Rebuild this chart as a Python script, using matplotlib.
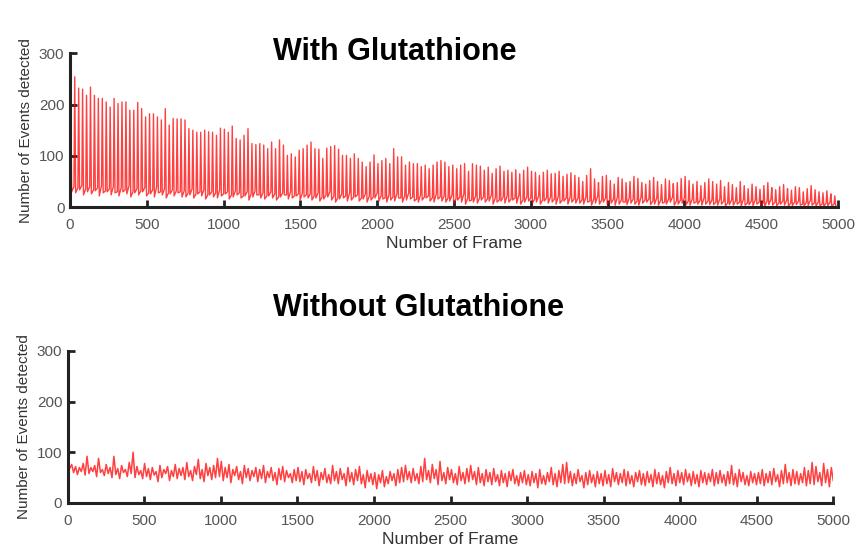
import numpy as np
import matplotlib
matplotlib.use("Agg")
import matplotlib.pyplot as plt

plt.rcParams['font.family'] = ['Liberation Sans', 'DejaVu Sans']

# ---- With Glutathione: spike heights (one per cycle) and baseline values ----
peaks = [225, 254, 232, 230, 218, 234, 218, 212, 212, 205, 195, 212, 202, 205, 205, 189, 189, 204, 192, 176,
         182, 182, 176, 170, 192, 160, 173, 172, 172,
         170, 153, 150, 146, 146, 150, 147, 146, 140, 154, 152, 146, 158, 134, 131, 140, 153, 124, 122, 124,
         121, 114, 127, 114, 131, 121, 101, 104, 98, 111, 114, 121,
         127, 114, 113, 95, 115, 118, 120, 113, 101, 101, 95, 104, 95, 88, 79, 88, 102, 85, 91, 95,
         85, 114, 98, 98, 82, 88, 85, 85, 79, 82, 75, 82, 88, 91,
         88, 79, 82, 75, 82, 85, 70, 85, 82, 80, 72, 78, 66, 75, 80, 70, 72, 68, 73, 65,
         72, 78, 70, 68, 62, 68, 72, 65, 66, 70, 60, 64, 67, 62,
         58, 50, 62, 75, 55, 48, 60, 62, 52, 45, 58, 55, 48, 50, 60, 56, 48, 45, 52, 58,
         50, 44, 55, 52, 46, 48, 56, 60, 52, 45, 50, 42, 48, 55,
         50, 45, 52, 40, 48, 44, 38, 50, 42, 36, 45, 40, 35, 42, 48, 38, 34, 40, 44, 36,
         33, 40, 38, 30, 36, 42, 34, 30, 28, 32, 26, 22]

lows_a = [45, 40, 38, 42, 36, 40, 34, 38, 42, 32, 36, 40, 30, 38, 34, 42, 30, 36, 32, 38,
          28, 34, 40, 30, 36, 28, 34, 32, 30,
          32, 28, 36, 26, 30, 34, 24, 30, 28, 34, 26, 30, 24, 32, 28, 22, 30, 26, 32, 24,
          28, 22, 30, 26, 20, 28, 24, 30, 22, 26, 28, 24,
          26, 22, 28, 20, 24, 30, 22, 18, 26, 22, 28, 20, 24, 18, 26, 22, 20, 28, 22, 18,
          24, 20, 26, 18, 22, 28, 20, 16, 24, 20, 22, 18, 26, 20,
          22, 18, 24, 16, 20, 26, 18, 14, 22, 18, 20, 16, 24, 18, 14, 20, 22, 16, 18, 24,
          14, 20, 18, 16, 22, 14, 18, 20, 16, 22, 14, 18, 20, 16,
          18, 14, 20, 12, 16, 22, 14, 18, 12, 16, 20, 14, 10, 18, 16, 12, 20, 14, 16, 12,
          18, 14, 10, 16, 20, 12, 14, 18, 12, 16, 10, 14, 18, 12,
          14, 10, 16, 12, 8, 14, 12, 10, 16, 8, 12, 14, 10, 8, 12, 16, 10, 8, 12, 14,
          8, 10, 12, 6, 10, 14, 8, 10, 6, 8, 10, 6]

lows_b = [30, 28, 34, 24, 30, 26, 32, 22, 28, 30, 24, 28, 22, 30, 26, 20, 28, 24, 30, 22,
          26, 20, 28, 24, 18, 26, 22, 28, 20,
          20, 24, 18, 26, 22, 16, 24, 20, 18, 22, 26, 16, 20, 24, 18, 22, 14, 20, 24, 18,
          16, 22, 18, 14, 20, 24, 16, 18, 22, 14, 20, 18,
          14, 18, 12, 16, 20, 14, 10, 16, 18, 12, 14, 20, 12, 16, 10, 14, 18, 12, 16, 10,
          14, 12, 18, 10, 14, 16, 12, 10, 14, 18, 12, 10, 16, 12,
          10, 12, 8, 14, 10, 6, 12, 10, 8, 14, 10, 12, 6, 10, 12, 8, 10, 14, 8, 6,
          10, 12, 8, 10, 6, 12, 8, 10, 6, 8, 12, 6, 10, 8,
          8, 6, 10, 4, 8, 6, 10, 5, 8, 4, 6, 10, 5, 8, 6, 4, 8, 10, 5, 6,
          4, 8, 6, 10, 4, 6, 8, 5, 4, 8, 6, 4, 6, 5,
          5, 4, 6, 3, 5, 4, 6, 2, 4, 5, 3, 6, 4, 2, 5, 4, 3, 6, 4, 2,
          3, 5, 4, 2, 3, 4, 2, 3, 2, 3, 2, 2]

# ---- Without Glutathione: values every 12.5 frames ----
without_vals = [
    85, 68, 76, 60, 72, 56, 70, 62, 78, 55, 92, 58, 70, 62, 74, 52, 88, 60, 66, 54,
    76, 58, 70, 50, 92, 56, 68, 48, 74, 60, 66, 52, 80, 58, 100, 50, 72, 56, 64, 48,
    78, 52, 68, 46, 70, 55, 62, 42, 74, 50, 66, 58, 72, 44, 64, 52, 76, 48, 68, 54,
    70, 46, 80, 52, 64, 44, 72, 56, 86, 48, 66, 42, 78, 54, 70, 46, 74, 50, 88, 52,
    82, 44, 70, 50, 76, 40, 66, 54, 72, 46, 62, 38, 74, 50, 68, 44, 64, 52, 70, 42,
    66, 48, 74, 40, 62, 50, 70, 44, 60, 36, 68, 46, 72, 42, 64, 50, 58, 40, 66, 44,
    70, 42, 62, 36, 66, 48, 58, 40, 72, 44, 64, 34, 60, 46, 68, 40, 56, 38, 74, 44,
    62, 38, 68, 46, 58, 34, 70, 42, 60, 36, 66, 44, 72, 38, 56, 30, 64, 42, 58, 36,
    60, 28, 56, 40, 64, 32, 52, 38, 62, 44, 58, 34, 66, 40, 70, 42, 74, 46, 62, 40,
    68, 44, 58, 38, 72, 42, 88, 46, 64, 40, 76, 48, 66, 36, 82, 44, 60, 38, 70, 46,
    66, 40, 58, 36, 72, 44, 60, 38, 68, 42, 74, 46, 62, 36, 70, 40, 58, 34, 66, 42,
    60, 36, 68, 42, 56, 34, 64, 40, 58, 32, 62, 44, 66, 38, 54, 34, 60, 40, 64, 36,
    56, 34, 62, 40, 58, 30, 66, 38, 54, 36, 60, 42, 70, 36, 58, 32, 64, 40, 76, 38,
    80, 40, 62, 34, 58, 38, 66, 42, 54, 30, 60, 36, 64, 40, 56, 32, 62, 38, 58, 34,
    64, 38, 56, 32, 68, 42, 60, 36, 58, 40, 66, 34, 62, 38, 54, 32, 60, 42, 64, 36,
    58, 34, 62, 40, 56, 32, 66, 38, 60, 36, 54, 30, 62, 40, 70, 38, 58, 34, 64, 40,
    60, 36, 66, 42, 58, 34, 62, 38, 56, 32, 64, 40, 60, 36, 58, 42, 66, 34, 60, 38,
    64, 40, 56, 34, 62, 38, 74, 36, 58, 32, 66, 42, 60, 36, 54, 34, 62, 40, 58, 36,
    60, 38, 66, 34, 58, 40, 62, 36, 68, 42, 56, 32, 64, 38, 76, 40, 60, 34, 66, 38,
    62, 36, 58, 40, 70, 34, 64, 38, 80, 36, 72, 42, 60, 34, 78, 40, 66, 32, 70, 44]

x_ticks = [0, 500, 1000, 1500, 2000, 2500, 3000, 3500, 4000, 4500, 5000]
y_ticks = [0, 100, 200, 300]
n_frames = 5000

# build the top trace: baseline -> spike -> dip for every cycle
n = min(len(peaks), len(lows_a), len(lows_b))
period = n_frames / n
starts = np.arange(n) * period
x_top = np.column_stack([starts, starts + 5, starts + 11]).ravel()
y_top = np.column_stack([lows_a[:n], peaks[:n], lows_b[:n]]).ravel()

x_bot = np.linspace(0, n_frames, len(without_vals))
y_bot = np.array(without_vals)

fig = plt.figure(figsize=(8.59, 5.57), dpi=100)
ax1 = fig.add_axes([0.0815, 0.628, 0.894, 0.2765])
ax2 = fig.add_axes([0.079, 0.097, 0.891, 0.273])

tick_col = '#555555'
for ax, x, y, lw in [(ax1, x_top, y_top, 1.0), (ax2, x_bot, y_bot, 1.1)]:
    ax.plot(x, y, color='#ff0000', lw=lw, alpha=0.75)
    ax.set_xlim(0, n_frames)
    ax.set_ylim(0, 300)
    ax.set_xticks(x_ticks)
    ax.set_yticks(y_ticks)
    for s in ['top', 'right']:
        ax.spines[s].set_visible(False)
    for s in ['left', 'bottom']:
        ax.spines[s].set_linewidth(2.2)
        ax.spines[s].set_color('#222222')
    ax.tick_params(direction='in', length=5, width=2, color='#222222',
                   labelsize=11, labelcolor=tick_col, pad=4)
    ax.tick_params(axis='x', pad=8)
    ax.set_xlabel('Number of Frame', fontsize=12.5, color='#333333', labelpad=3)
    ax.set_ylabel('Number of Events detected', fontsize=11, color='#333333', labelpad=4)

fig.text(0.459, 0.907, 'With Glutathione', ha='center', va='center',
         fontsize=22, fontweight='bold')
fig.text(0.487, 0.447, 'Without Glutathione', ha='center', va='center',
         fontsize=22, fontweight='bold')

fig.savefig('out.png', dpi=100)
